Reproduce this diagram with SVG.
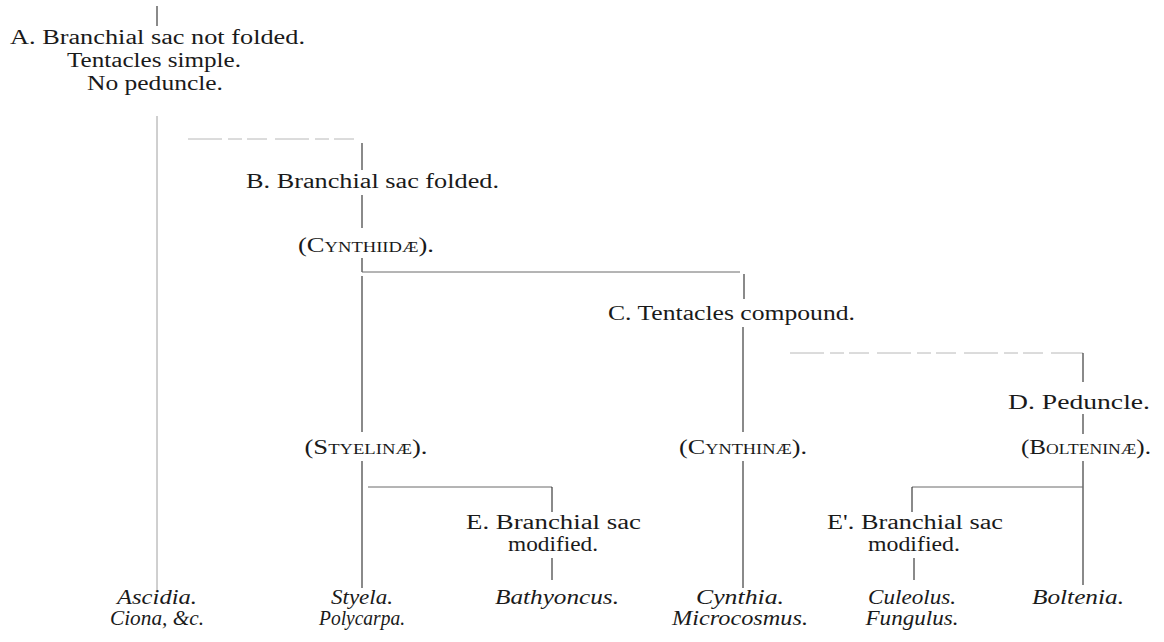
<svg xmlns="http://www.w3.org/2000/svg" width="1164" height="642" viewBox="0 0 1164 642">
<style>
  text { font-family: "Liberation Serif", "Times New Roman", serif; font-size: 20px; fill: #1a1a1a; }
  .it { font-style: italic; }
  .sc { font-variant: small-caps; }
  .mid { text-anchor: middle; }
  .ln { stroke: #2a2a2a; stroke-width: 1.1; fill: none; }
  .md { stroke: #6a6a6a; stroke-width: 1; fill: none; }
  .lt { stroke: #a0a0a0; stroke-width: 1; fill: none; }
  .fd { stroke: #b8b8b8; stroke-width: 1; fill: none; stroke-dasharray: 34 6 14 5 20 8; }
</style>
<rect width="1164" height="642" fill="#ffffff"/>
<g id="connectors">
  <line class="ln" x1="157" y1="6" x2="157" y2="26"/>
  <line class="lt" x1="157" y1="116" x2="157" y2="590"/>
  <line class="fd" x1="188" y1="139" x2="360" y2="139"/>
  <line class="ln" x1="362" y1="143" x2="362" y2="170"/>
  <line class="ln" x1="362" y1="195" x2="362" y2="228"/>
  <line class="ln" x1="362" y1="258" x2="362" y2="272"/>
  <line class="md" x1="362" y1="272" x2="740" y2="272"/>
  <line class="ln" x1="744" y1="274" x2="744" y2="299"/>
  <line class="ln" x1="362" y1="276" x2="362" y2="432"/>
  <line class="ln" x1="743" y1="327" x2="743" y2="432"/>
  <line class="fd" x1="790" y1="353" x2="1083" y2="353"/>
  <line class="ln" x1="1083" y1="353" x2="1083" y2="382"/>
  <line class="ln" x1="1083" y1="414" x2="1083" y2="434"/>
  <line class="ln" x1="362" y1="461" x2="362" y2="588"/>
  <line class="md" x1="368" y1="487" x2="552" y2="487"/>
  <line class="ln" x1="552" y1="487" x2="552" y2="512"/>
  <line class="ln" x1="552" y1="558" x2="552" y2="580"/>
  <line class="ln" x1="743" y1="461" x2="743" y2="588"/>
  <line class="ln" x1="1083" y1="461" x2="1083" y2="585"/>
  <line class="md" x1="912" y1="487" x2="1083" y2="487"/>
  <line class="ln" x1="912" y1="487" x2="912" y2="512"/>
  <line class="ln" x1="914" y1="558" x2="914" y2="580"/>
</g>
<g id="node-A">
  <text x="10" y="44" textLength="295" lengthAdjust="spacingAndGlyphs">A.  Branchial sac not folded.</text>
  <text x="67" y="67" textLength="174" lengthAdjust="spacingAndGlyphs">Tentacles simple.</text>
  <text x="87" y="90" textLength="136" lengthAdjust="spacingAndGlyphs">No peduncle.</text>
</g>
<g id="node-B">
  <text x="246" y="188" textLength="253" lengthAdjust="spacingAndGlyphs">B.  Branchial sac folded.</text>
</g>
<g id="node-cynthiidae">
  <text class="sc mid" x="366" y="252" textLength="136" lengthAdjust="spacingAndGlyphs">(Cynthiidæ).</text>
</g>
<g id="node-C">
  <text x="608" y="320" textLength="247" lengthAdjust="spacingAndGlyphs">C.  Tentacles compound.</text>
</g>
<g id="node-D">
  <text x="1008" y="409" textLength="142" lengthAdjust="spacingAndGlyphs">D.  Peduncle.</text>
</g>
<g id="node-styelinae">
  <text class="sc mid" x="366" y="454" textLength="123" lengthAdjust="spacingAndGlyphs">(Styelinæ).</text>
</g>
<g id="node-cynthinae">
  <text class="sc mid" x="743" y="454" textLength="128" lengthAdjust="spacingAndGlyphs">(Cynthinæ).</text>
</g>
<g id="node-bolteninae">
  <text class="sc mid" x="1086" y="454" textLength="130" lengthAdjust="spacingAndGlyphs">(Bolteninæ).</text>
</g>
<g id="node-E">
  <text x="466" y="529" textLength="175" lengthAdjust="spacingAndGlyphs">E.  Branchial sac</text>
  <text class="mid" x="553" y="551" textLength="90" lengthAdjust="spacingAndGlyphs">modified.</text>
</g>
<g id="node-E2">
  <text x="827" y="529" textLength="176" lengthAdjust="spacingAndGlyphs">E'.  Branchial sac</text>
  <text class="mid" x="914" y="551" textLength="92" lengthAdjust="spacingAndGlyphs">modified.</text>
</g>
<g id="node-ascidia">
  <text class="it mid" x="157" y="604" textLength="80" lengthAdjust="spacingAndGlyphs">Ascidia.</text>
  <text class="it mid" x="157" y="625" textLength="94" lengthAdjust="spacingAndGlyphs">Ciona, &amp;c.</text>
</g>
<g id="node-styela">
  <text class="it mid" x="362" y="604" textLength="62" lengthAdjust="spacingAndGlyphs">Styela.</text>
  <text class="it mid" x="362" y="625" textLength="86" lengthAdjust="spacingAndGlyphs">Polycarpa.</text>
</g>
<g id="node-bathyoncus">
  <text class="it mid" x="557" y="604" textLength="124" lengthAdjust="spacingAndGlyphs">Bathyoncus.</text>
</g>
<g id="node-cynthia">
  <text class="it mid" x="740" y="604" textLength="88" lengthAdjust="spacingAndGlyphs">Cynthia.</text>
  <text class="it mid" x="740" y="625" textLength="136" lengthAdjust="spacingAndGlyphs">Microcosmus.</text>
</g>
<g id="node-culeolus">
  <text class="it mid" x="912" y="604" textLength="88" lengthAdjust="spacingAndGlyphs">Culeolus.</text>
  <text class="it mid" x="912" y="625" textLength="93" lengthAdjust="spacingAndGlyphs">Fungulus.</text>
</g>
<g id="node-boltenia">
  <text class="it mid" x="1078" y="604" textLength="92" lengthAdjust="spacingAndGlyphs">Boltenia.</text>
</g>
</svg>
